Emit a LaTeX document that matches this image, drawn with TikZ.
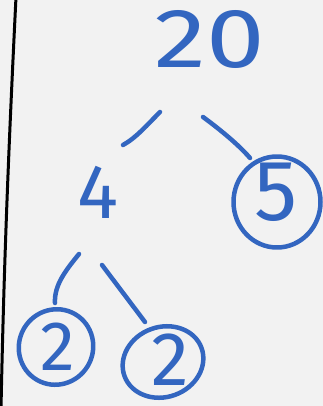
\documentclass[tikz,border=0pt]{standalone}
\usepackage{fontspec}
\setmainfont{Fira Sans}
\usetikzlibrary{shapes.geometric}
\definecolor{ink}{HTML}{3366C0}
\definecolor{paper}{HTML}{F2F2F2}
\begin{document}
\begin{tikzpicture}[x=1pt,y=-1pt,line cap=round,line join=round,
  stroke/.style={draw=ink,line width=4.5pt},
  digit/.style={text=ink,inner sep=0pt,font=\fontsize{#1}{#1}\selectfont},
  ring/.style={draw=ink,line width=4.5pt,ellipse,inner sep=0pt}]
  \fill[paper] (0,0) rectangle (323,406);
  \useasboundingbox (0,0) rectangle (323,406);
  \draw[black,line width=3pt] (16,-3) .. controls (9,140) and (4,260) .. (1,409);
  % numbers
  \node[digit=84] (n20) at (210,39) {\scalebox{1.25}[1]{20}};
  \node[digit=77] (n4) at (98,192) {4};
  \node[digit=86] (n5) at (276,192) {5};
  \node[digit=70] (n2a) at (58,347) {2};
  \node[digit=76] (n2b) at (170,360) {2};
  % rings
  \node[ring,minimum width=87pt,minimum height=91pt] (r5) at (277,202) {};
  \node[ring,minimum width=74pt,minimum height=76pt,rotate=-30] (r2a) at (56,347) {};
  \node[ring,minimum width=82pt,minimum height=70pt,rotate=20] (r2b) at (163,362) {};
  % connectors
  \coordinate (a1) at (160,112); \coordinate (a2) at (123,145);
  \coordinate (b1) at (203,117); \coordinate (b2) at (250,158);
  \coordinate (c1) at (79,254);  \coordinate (c2) at (55,303);
  \coordinate (d1) at (102,265); \coordinate (d2) at (145,322);
  \draw[stroke] (a1) .. controls (148,124) and (136,138) .. (a2);
  \draw[stroke] (b1) .. controls (218,128) and (238,144) .. (b2);
  \draw[stroke] (c1) .. controls (66,270) and (54,285) .. (c2);
  \draw[stroke] (d1) -- (d2);
\end{tikzpicture}
\end{document}
